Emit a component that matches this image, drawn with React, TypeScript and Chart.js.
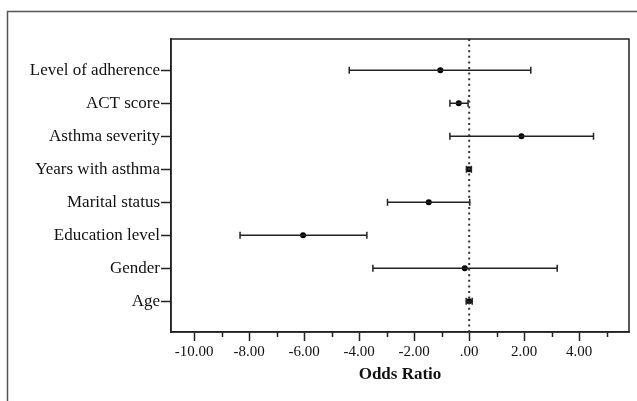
import React, { useEffect, useRef } from "react";
import { Chart, registerables } from "chart.js";

Chart.register(...registerables);

const categories = [
  "Level of adherence",
  "ACT score",
  "Asthma severity",
  "Years with asthma",
  "Marital status",
  "Education level",
  "Gender",
  "Age",
];
const estimates = [-1.05, -0.38, 1.9, -0.01, -1.47, -6.04, -0.16, 0.0];
const lowerCI = [-4.36, -0.7, -0.7, -0.1, -2.97, -8.33, -3.5, -0.11];
const upperCI = [2.24, -0.04, 4.52, 0.08, 0.02, -3.72, 3.2, 0.11];
const xMajorTicks = [-10, -8, -6, -4, -2, 0, 2, 4];
const xMinorTicks = [-9, -7, -5, -3, -1, 1, 3, 5];
const xTitle = "Odds Ratio";

const FONT = "'Liberation Serif', 'Times New Roman', serif";

const fmt = (v: number) => {
  const s = v.toFixed(2);
  if (s === "0.00") return ".00";
  return s;
};

const decorPlugin = {
  id: "decor",
  beforeDraw(chart: any) {
    const ctx = chart.ctx;
    ctx.save();
    ctx.strokeStyle = "#555";
    ctx.lineWidth = 1.5;
    ctx.beginPath();
    ctx.moveTo(7.5, chart.height);
    ctx.lineTo(7.5, 11.5);
    ctx.lineTo(chart.width, 11.5);
    ctx.stroke();
    ctx.restore();
  },
  afterDraw(chart: any) {
    const ctx = chart.ctx;
    const a = chart.chartArea;
    const xs = chart.scales.x;
    ctx.save();
    ctx.strokeStyle = "#222";
    ctx.lineWidth = 1.5;
    ctx.strokeRect(a.left, a.top, a.right - a.left, a.bottom - a.top);
    ctx.beginPath();
    xMinorTicks.forEach((v) => {
      const px = Math.round(xs.getPixelForValue(v)) + 0.5;
      ctx.moveTo(px, a.bottom);
      ctx.lineTo(px, a.bottom + 5);
    });
    ctx.stroke();
    ctx.restore();
  },
};

export default function App() {
  const ref = useRef<HTMLCanvasElement>(null);
  useEffect(() => {
    if (!ref.current) return;
    const yMin = -0.948;
    const yMax = 7.93;
    const whisker: any[] = [];
    const caps: any[] = [];
    categories.forEach((_, i) => {
      whisker.push({ x: lowerCI[i], y: i });
      whisker.push({ x: upperCI[i], y: i });
      whisker.push({ x: upperCI[i], y: null });
      caps.push({ x: lowerCI[i], y: i });
      caps.push({ x: upperCI[i], y: i });
    });
    const points = categories.map((_, i) => ({ x: estimates[i], y: i }));
    const chart = new Chart(ref.current, {
      type: "scatter",
      data: {
        datasets: [
          {
            type: "line",
            data: [
              { x: 0, y: yMin },
              { x: 0, y: yMax },
            ],
            borderColor: "#333",
            borderWidth: 2,
            borderDash: [2, 3.6],
            pointRadius: 0,
            fill: false,
          } as any,
          {
            type: "line",
            data: whisker,
            borderColor: "#222",
            borderWidth: 1.5,
            pointRadius: 0,
            spanGaps: false,
            fill: false,
          } as any,
          {
            type: "scatter",
            data: caps,
            pointStyle: "line",
            rotation: 90,
            radius: 3.5,
            borderColor: "#222",
            borderWidth: 1.5,
          } as any,
          {
            type: "scatter",
            data: points,
            pointStyle: "circle",
            radius: 3,
            backgroundColor: "#000",
            borderColor: "#000",
            borderWidth: 0,
          } as any,
        ],
      },
      options: {
        animation: false,
        responsive: false,
        events: [],
        layout: { padding: { left: 0, top: 39, right: 8, bottom: 0 } },
        plugins: { legend: { display: false }, tooltip: { enabled: false } },
        scales: {
          x: {
            type: "linear",
            min: -10.84,
            max: 5.81,
            afterBuildTicks: (s: any) => {
              s.ticks = xMajorTicks.map((v) => ({ value: v }));
            },
            afterFit: (s: any) => {
              s.height = 69;
            },
            ticks: {
              autoSkip: false,
              maxRotation: 0,
              padding: 2,
              color: "#111",
              font: { family: FONT, size: 15 },
              callback: (v: any) => fmt(Number(v)),
            },
            grid: {
              drawOnChartArea: false,
              tickLength: 9,
              tickWidth: 1.5,
              tickColor: "#222",
            },
            border: { color: "#222", width: 1.5 },
            title: {
              display: true,
              text: xTitle,
              color: "#111",
              font: { family: FONT, size: 17, weight: "bold" },
              padding: { top: 0, bottom: 16 },
            },
          },
          y: {
            type: "linear",
            reverse: true,
            min: yMin,
            max: yMax,
            afterBuildTicks: (s: any) => {
              s.ticks = categories.map((_, i) => ({ value: i }));
            },
            afterFit: (s: any) => {
              s.width = 171;
            },
            ticks: {
              autoSkip: false,
              padding: 1,
              color: "#111",
              font: { family: FONT, size: 17 },
              callback: (v: any) => categories[Number(v)] ?? "",
            },
            grid: {
              drawOnChartArea: false,
              tickLength: 10,
              tickWidth: 1.5,
              tickColor: "#222",
            },
            border: { color: "#222", width: 1.5 },
          },
        },
      },
      plugins: [decorPlugin],
    } as any);
    return () => chart.destroy();
  }, []);
  return (
    <canvas
      ref={ref}
      width={637}
      height={401}
      style={{ position: "fixed", left: 0, top: 0, display: "block", background: "#fff" }}
    />
  );
}
